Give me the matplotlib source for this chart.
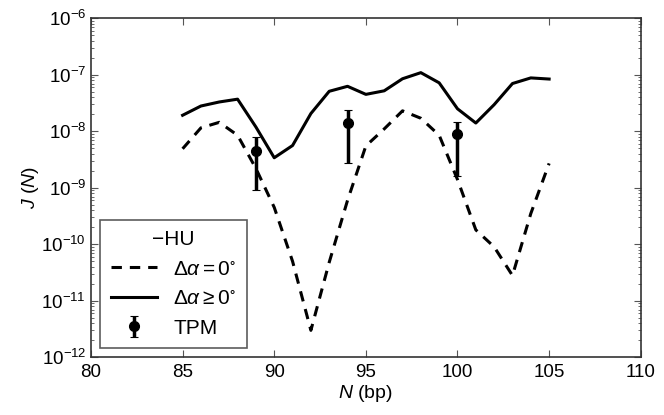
import matplotlib
matplotlib.use("Agg")
import matplotlib.pyplot as plt
import numpy as np

plt.rcParams["font.family"] = ["Liberation Sans", "DejaVu Sans"]
plt.rcParams["mathtext.fontset"] = "custom"
plt.rcParams["mathtext.rm"] = "Liberation Sans"
plt.rcParams["mathtext.it"] = "Liberation Sans:italic"
plt.rcParams["mathtext.default"] = "regular"

# chain length N (bp)
n_bp = [85, 86, 87, 88, 89, 90, 91, 92, 93, 94, 95, 96, 97, 98, 99, 100,
        101, 102, 103, 104, 105]

# J(N) with delta alpha = 0 (dashed)
j_zero = [4.9e-9, 1.15e-8, 1.44e-8, 8.5e-9, 2.2e-9, 4.5e-10, 5.0e-11, 3.0e-12,
          4.8e-11, 6.0e-10, 5.5e-9, 1.1e-8, 2.3e-8, 1.7e-8, 8.5e-9, 1.4e-9,
          1.8e-10, 9.0e-11, 2.8e-11, 3.5e-10, 2.7e-9]

# J(N) with delta alpha >= 0 (solid)
j_free = [1.92e-8, 2.8e-8, 3.3e-8, 3.7e-8, 1.19e-8, 3.4e-9, 5.6e-9, 2.06e-8,
          5.1e-8, 6.25e-8, 4.5e-8, 5.2e-8, 8.5e-8, 1.09e-7, 7.2e-8, 2.5e-8,
          1.4e-8, 2.96e-8, 7.0e-8, 8.8e-8, 8.4e-8]

# TPM measurements
tpm_n = [89, 94, 100]
tpm_j = [4.5e-9, 1.4e-8, 9.0e-9]
tpm_hi = [7.9e-9, 2.35e-8, 1.48e-8]
tpm_lo = [9.3e-10, 2.8e-9, 1.6e-9]

fig = plt.figure(figsize=(6.64, 4.15), dpi=100)
ax = fig.add_axes([0.137, 0.139, 0.828, 0.817])

ax.plot(n_bp, j_zero, color="black", lw=2.2, ls=(0, (3.4, 2.6)),
        label=r"$\Delta\mathit{\alpha}=0^{\circ}$")
ax.plot(n_bp, j_free, color="black", lw=2.2,
        label=r"$\Delta\mathit{\alpha}\geq0^{\circ}$")

yerr = [np.array(tpm_j) - np.array(tpm_lo), np.array(tpm_hi) - np.array(tpm_j)]
ax.errorbar(tpm_n, tpm_j, yerr=yerr, fmt="o", color="black", ms=7,
            elinewidth=2.5, capsize=3, capthick=0.8, label="TPM")

ax.set_yscale("log")
ax.set_xlim(80, 110)
ax.set_ylim(1e-12, 1e-6)
ax.set_xticks([80, 85, 90, 95, 100, 105, 110])

ax.tick_params(which="both", direction="in", top=True, right=True,
               labelsize=13.5, color="#555555")
ax.tick_params(which="major", length=5, width=0.8)
ax.tick_params(which="minor", length=2.5, width=0.6)
ax.tick_params(axis="x", pad=5)
for sp in ax.spines.values():
    sp.set_color("#333333")
    sp.set_linewidth(1.2)

ax.set_xlabel(r"$\mathit{N}$ (bp)", fontsize=14, labelpad=1)
ax.set_ylabel(r"$\mathit{J}$ ($\mathit{N}$)", fontsize=14, labelpad=0)

leg = ax.legend(loc="lower left", title="\u2212HU", fontsize=15,
                title_fontsize=15, frameon=True, fancybox=False,
                borderaxespad=0.45, handlelength=2.2, labelspacing=0.5,
                borderpad=0.5, handletextpad=0.8)
leg.get_frame().set_edgecolor("#333333")
leg.get_frame().set_linewidth(1.2)

fig.savefig("out.png", dpi=100)
